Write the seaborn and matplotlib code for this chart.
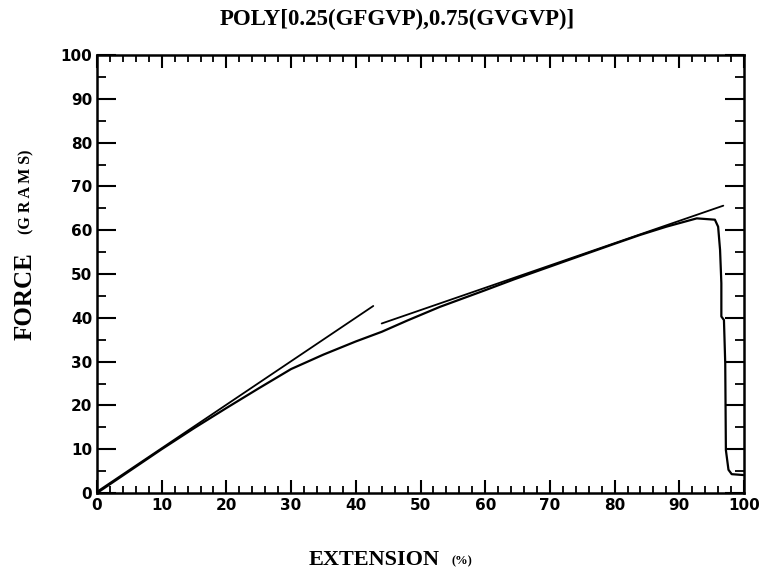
import matplotlib
matplotlib.use("Agg")
import numpy as np
import pandas as pd
import matplotlib.pyplot as plt
import seaborn as sns
from matplotlib.ticker import MultipleLocator

# measured stress-strain trace (extension %, force g)
ext_curve = [0, 5, 10, 15, 20, 25, 30, 35, 40, 44, 48, 53, 60, 64.5, 68.5,
             75, 80, 83.9, 88, 92.7, 95.5, 96.0, 96.3, 96.5, 96.5, 96.9,
             97.1, 97.2, 97.6, 98.1, 99.9]
force_curve = [0, 5.0, 10.0, 14.8, 19.4, 23.9, 28.3, 31.6, 34.6, 36.8, 39.4,
               42.5, 46.3, 48.8, 50.9, 54.3, 56.9, 58.9, 60.8, 62.7, 62.4,
               60.8, 55.5, 47.9, 40.3, 39.5, 29.6, 9.8, 5.3, 4.3, 4.1]

# the two straight fit lines
ext_fit1 = [0, 42.7]
force_fit1 = [0.3, 42.7]
ext_fit2 = [44, 96.8]
force_fit2 = [38.7, 65.6]

title = "POLY[0.25(GFGVP),0.75(GVGVP)]"

sns.set_style("ticks")
plt.rcParams["font.family"] = ["DejaVu Sans"]
plt.rcParams["text.color"] = "black"
plt.rcParams["xtick.color"] = "black"
plt.rcParams["ytick.color"] = "black"
serif = ["Liberation Serif", "DejaVu Serif"]

fig = plt.figure(figsize=(7.65, 5.71), dpi=100)
ax = fig.add_axes([97 / 765, 78 / 571, 647 / 765, 438 / 571])

df_curve = pd.DataFrame({"ext": ext_curve, "force": force_curve})
sns.lineplot(data=df_curve, x="ext", y="force", sort=False, estimator=None,
             color="black", linewidth=1.6, ax=ax)
for xs, ys in [(ext_fit1, force_fit1), (ext_fit2, force_fit2)]:
    sns.lineplot(x=xs, y=ys, sort=False, estimator=None, color="black",
                 linewidth=1.3, ax=ax)

ax.set_xlim(0, 100)
ax.set_ylim(0, 100)
ax.set_xlabel("")
ax.set_ylabel("")

for side in ["left", "right", "top", "bottom"]:
    ax.spines[side].set_visible(True)
    ax.spines[side].set_linewidth(1.8)
    ax.spines[side].set_color("black")

ax.xaxis.set_major_locator(MultipleLocator(10))
ax.xaxis.set_minor_locator(MultipleLocator(2))
ax.yaxis.set_major_locator(MultipleLocator(10))
ax.yaxis.set_minor_locator(MultipleLocator(5))

ax.tick_params(axis="x", which="major", direction="in", top=True, bottom=True,
               length=9.5, width=1.5, pad=3.5, labelsize=11, labelcolor="black")
ax.tick_params(axis="x", which="minor", direction="in", top=True, bottom=True,
               length=5, width=1.3)
ax.tick_params(axis="y", which="major", direction="in", left=True, right=True,
               length=13.5, width=1.5, pad=3.5, labelsize=11, labelcolor="black")
ax.tick_params(axis="y", which="minor", direction="in", left=True, right=True,
               length=6.5, width=1.3)
for lab in ax.get_xticklabels() + ax.get_yticklabels():
    lab.set_fontweight("bold")
ax.set_facecolor("white")
ax.grid(False)

fig.text(397 / 765, 1 - 19 / 571, title, ha="center", va="center",
         fontsize=16.5, fontweight="bold", family=serif, color="black")
fig.text(25 / 765, 1 - 296 / 571, "FORCE", rotation=90, ha="center",
         va="center", fontsize=18, fontweight="bold", family=serif, color="black")
fig.text(26 / 765, 1 - 192 / 571, "(G R A M S)", rotation=90, ha="center",
         va="center", fontsize=11.5, fontweight="bold", family=serif, color="black")
fig.text(374 / 765, 1 - 560 / 571, "EXTENSION", ha="center", va="center",
         fontsize=16, fontweight="bold", family=serif, color="black")
fig.text(462 / 765, 1 - 561 / 571, "(%)", ha="center", va="center",
         fontsize=9, fontweight="bold", family=serif, color="black")

fig.savefig("out.png", dpi=100, facecolor="white")
